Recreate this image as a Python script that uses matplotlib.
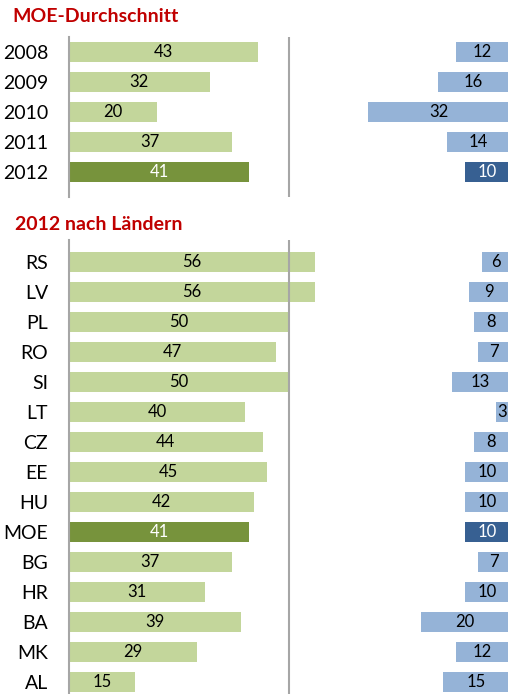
import numpy as np
import matplotlib.pyplot as plt

plt.rcParams['font.family'] = ['Lato', 'DejaVu Sans']

years = ['2008', '2009', '2010', '2011', '2012']
years_green = [43, 32, 20, 37, 41]
years_blue = [12, 16, 32, 14, 10]

countries = ['RS', 'LV', 'PL', 'RO', 'SI', 'LT', 'CZ', 'EE', 'HU', 'MOE',
             'BG', 'HR', 'BA', 'MK', 'AL']
countries_green = [56, 56, 50, 47, 50, 40, 44, 45, 42, 41, 37, 31, 39, 29, 15]
countries_blue = [6, 9, 8, 7, 13, 3, 8, 10, 10, 10, 7, 10, 20, 12, 15]

light_green = '#c3d69b'
dark_green = '#77933c'
light_blue = '#95b3d7'
dark_blue = '#376092'
grey = '#a6a6a6'

W, H = 508, 694
fig = plt.figure(figsize=(W / 100, H / 100), dpi=100)


def panel(top_px, bottom_px, labels, green, blue, highlight, ytop, ybot):
    ax = fig.add_axes([69 / W, 1 - bottom_px / H, 1 - 69 / W, (bottom_px - top_px) / H])
    y = np.arange(len(labels))
    gcol = [dark_green if l == highlight else light_green for l in labels]
    bcol = [dark_blue if l == highlight else light_blue for l in labels]
    ax.barh(y, green, height=0.66, color=gcol)
    blue = np.array(blue)
    ax.barh(y, blue, left=100 - blue, height=0.66, color=bcol)
    for i, l in enumerate(labels):
        tc = 'white' if l == highlight else 'black'
        ax.text(green[i] / 2, i, str(green[i]), ha='center', va='center',
                fontsize=12, color=tc)
        ax.text(100 - blue[i] / 2, i, str(blue[i]), ha='center', va='center',
                fontsize=12, color=tc)
    ax.axvline(50, color=grey, lw=1.5)
    ax.set_xlim(0, 99.8)
    ax.set_ylim(ybot, ytop)
    ax.set_yticks(y)
    ax.set_yticklabels(labels, fontsize=14)
    ax.tick_params(axis='y', length=0, pad=15)
    ax.set_xticks([])
    for s in ['top', 'right', 'bottom']:
        ax.spines[s].set_visible(False)
    ax.spines['left'].set_color(grey)
    ax.spines['left'].set_linewidth(1.5)
    return ax


panel(37, 197, years, years_green, years_blue, '2012', -0.5, 4.83)
panel(240, 694, countries, countries_green, countries_blue, 'MOE', -0.73, 14.4)

fig.text(12 / W, 1 - 17 / H, 'MOE-Durchschnitt', fontsize=14, fontweight='bold',
         color='#c00000', va='center', ha='left')
fig.text(15 / W, 1 - 224 / H, '2012 nach Ländern', fontsize=14, fontweight='bold',
         color='#c00000', va='center', ha='left')

fig.savefig('out.png', dpi=100)
